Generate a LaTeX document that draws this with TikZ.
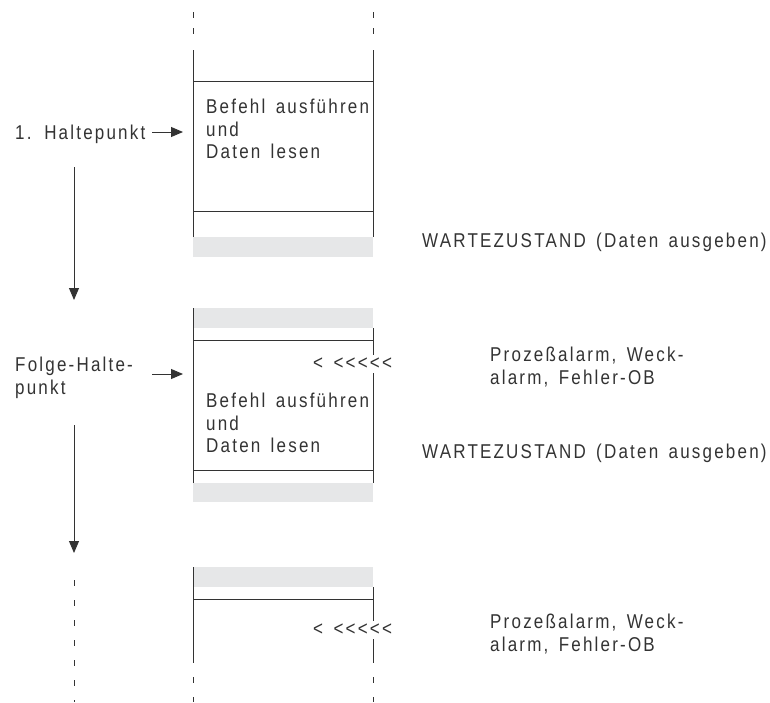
\documentclass[tikz,border=0pt]{standalone}
\usepackage{fontspec}
\setmainfont{Liberation Sans}[FakeStretch=0.85,LetterSpace=11,WordSpace=1.5]
\usetikzlibrary{arrows.meta}

\definecolor{waitgray}{HTML}{E6E7E8}
\definecolor{ink}{HTML}{333333}

\begin{document}
\begin{tikzpicture}[x=1pt,y=-1pt,
  rail/.style={ink,line width=0.9pt},
  railgap/.style={rail,dash pattern=on 6pt off 14pt},
  waitbar/.style={fill=waitgray,draw=none},
  lbl/.style={font=\fontsize{20}{22.5}\selectfont,text=ink,inner sep=0pt,align=left},
  flow/.style={ink,line width=0.9pt,-{Triangle[length=12pt,width=10pt]}}]
\useasboundingbox (0,0) rectangle (770,702);

% first block
\foreach \x in {193,373}
   \draw[rail,dash pattern=on 6pt off 10pt] (\x,12) -- (\x,40);
\draw[rail] (193,50) -- (193,240);
\draw[rail] (373,50) -- (373,237);
\draw[rail] (193,81) -- (373,81);
\draw[rail] (193,211) -- (373,211);
\fill[waitbar] (193,237) rectangle (373,257);

% second block
\fill[waitbar] (193,308) rectangle (373,328);
\draw[rail] (193,308) -- (193,502);
\draw[rail] (373,328) -- (373,483);
\draw[rail] (193,340) -- (373,340);
\draw[rail] (193,470) -- (373,470);
\fill[waitbar] (193,483) rectangle (373,502);

% third block
\fill[waitbar] (193,567) rectangle (373,587);
\draw[rail] (193,567) -- (193,663);
\draw[rail] (373,587) -- (373,663);
\draw[rail] (193,599) -- (373,599);
\foreach \x in {193,373}
   \draw[railgap] (\x,677) -- (\x,702);

% texts in the blocks
\node[lbl,anchor=north west] (exec1) at (206,99) {Befehl ausführen\\und\\Daten lesen};
\node[lbl,anchor=north west] (exec2) at (206,393) {Befehl ausführen\\und\\Daten lesen};
\node[lbl,anchor=west,fill=white,inner ysep=3pt] (irq2) at (313,364) {{<}~{<}{<}{<}{<}{<}};
\node[lbl,anchor=west,fill=white,inner ysep=3pt] (irq3) at (313,630) {{<}~{<}{<}{<}{<}{<}};

% texts on the right
\node[lbl,anchor=west] (wait1) at (422,242) {WARTEZUSTAND (Daten ausgeben)};
\node[lbl,anchor=west] (wait2) at (422,453) {WARTEZUSTAND (Daten ausgeben)};
\node[lbl,anchor=north west] (alarm2) at (490,347) {Prozeßalarm, Weck-\\alarm, Fehler-OB};
\node[lbl,anchor=north west] (alarm3) at (490,614) {Prozeßalarm, Weck-\\alarm, Fehler-OB};

% breakpoints on the left
\node[lbl,anchor=base west] (halt1) at (15,139) {1. Haltepunkt};
\node[lbl,anchor=north west] (halt2) at (15,357) {Folge-Halte-\\punkt};

\coordinate (in1) at (183,132);
\coordinate (in2) at (183,374);
\draw[flow] (152,132) -- (in1);
\draw[flow] (152,374) -- (in2);

\coordinate (step1a) at (74,167);
\coordinate (step1b) at (74,300);
\coordinate (step2a) at (74,425);
\coordinate (step2b) at (74,553);
\draw[flow] (step1a) -- (step1b);
\draw[flow] (step2a) -- (step2b);
\draw[railgap] (74,580) -- (74,702);

\end{tikzpicture}
\end{document}
